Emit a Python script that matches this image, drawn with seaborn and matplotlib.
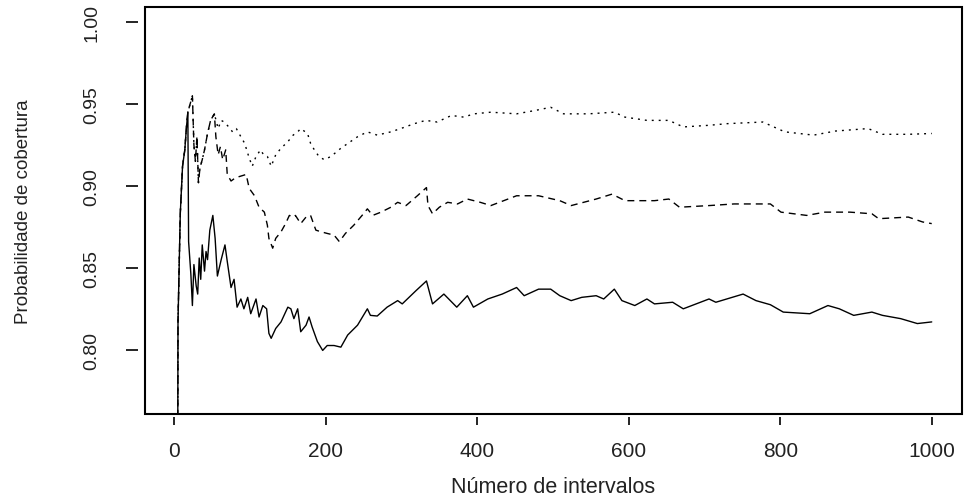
import matplotlib
matplotlib.use("Agg")
import matplotlib.pyplot as plt
from matplotlib.patches import Rectangle
import seaborn as sns

# ---- data ----
n_solid = [4, 5, 8, 11, 14, 16, 18, 19, 22, 24, 26, 29, 31, 33, 35, 37, 40, 42, 44, 47,
           51, 54, 57, 62, 67, 70, 75, 79, 83, 88, 92, 97, 101, 108, 112, 117, 122, 125,
           128, 134, 141, 150, 154, 158, 163, 167, 174, 178, 182, 189, 196, 202, 211, 220,
           229, 242, 255, 259, 268, 281, 295, 301, 319, 333, 341, 356, 373, 387, 395, 414,
           433, 452, 462, 481, 497, 509, 524, 538, 557, 567, 581, 591, 608, 624, 634, 658,
           672, 706, 715, 751, 768, 787, 804, 839, 863, 878, 897, 921, 935, 959, 981, 1000]
p_solid = [0.600, 0.817, 0.883, 0.912, 0.922, 0.935, 0.945, 0.866, 0.846, 0.827, 0.852,
           0.839, 0.834, 0.856, 0.843, 0.864, 0.848, 0.860, 0.855, 0.873, 0.882, 0.868,
           0.845, 0.855, 0.864, 0.854, 0.838, 0.843, 0.826, 0.831, 0.825, 0.832, 0.822,
           0.831, 0.820, 0.827, 0.825, 0.810, 0.807, 0.813, 0.817, 0.826, 0.825, 0.819,
           0.825, 0.811, 0.815, 0.820, 0.814, 0.805, 0.7996, 0.8026, 0.8026, 0.8016,
           0.809, 0.815, 0.825, 0.821, 0.8206, 0.826, 0.830, 0.828, 0.836, 0.842, 0.828,
           0.834, 0.826, 0.833, 0.826, 0.831, 0.834, 0.838, 0.833, 0.837, 0.837, 0.833,
           0.830, 0.832, 0.833, 0.831, 0.837, 0.830, 0.827, 0.831, 0.828, 0.829, 0.825,
           0.831, 0.829, 0.834, 0.830, 0.8275, 0.823, 0.822, 0.827, 0.825, 0.821, 0.823,
           0.821, 0.819, 0.816, 0.817]

n_dashed = [4, 5, 8, 11, 14, 16, 18, 24, 26, 28, 30, 32, 34, 37, 40, 44, 48, 53, 55, 58,
            61, 64, 68, 70, 75, 81, 88, 95, 99, 106, 112, 119, 123, 125, 130, 134, 141,
            147, 152, 158, 160, 167, 174, 180, 187, 194, 202, 211, 218, 226, 237, 248, 255,
            262, 273, 286, 295, 306, 321, 333, 335, 341, 350, 361, 374, 387, 404, 418, 452,
            481, 509, 524, 557, 578, 595, 634, 653, 667, 706, 739, 787, 801, 835, 859, 892,
            921, 930, 969, 988, 1000]
p_dashed = [0.600, 0.817, 0.883, 0.912, 0.922, 0.935, 0.945, 0.955, 0.925, 0.915, 0.930,
            0.902, 0.911, 0.916, 0.922, 0.932, 0.940, 0.944, 0.930, 0.919, 0.924, 0.916,
            0.922, 0.907, 0.903, 0.905, 0.906, 0.907, 0.8985, 0.894, 0.887, 0.884, 0.876,
            0.868, 0.862, 0.868, 0.872, 0.877, 0.882, 0.881, 0.882, 0.877, 0.881, 0.882,
            0.873, 0.872, 0.871, 0.870, 0.866, 0.871, 0.876, 0.882, 0.886, 0.882, 0.884,
            0.887, 0.890, 0.888, 0.894, 0.899, 0.888, 0.883, 0.887, 0.890, 0.889, 0.892,
            0.890, 0.888, 0.894, 0.894, 0.891, 0.888, 0.892, 0.895, 0.891, 0.891, 0.892,
            0.887, 0.888, 0.889, 0.889, 0.884, 0.882, 0.884, 0.884, 0.883, 0.880, 0.881,
            0.878, 0.877]

n_dotted = [4, 5, 8, 11, 14, 16, 18, 24, 26, 28, 30, 32, 34, 37, 40, 44, 48, 53, 58, 62,
            66, 72, 77, 82, 88, 93, 99, 103, 108, 114, 118, 123, 128, 134, 141, 150, 157,
            163, 167, 176, 180, 185, 191, 198, 207, 220, 242, 255, 268, 286, 299, 317, 332,
            347, 366, 382, 396, 418, 452, 476, 497, 514, 547, 581, 595, 624, 653, 672, 706,
            730, 777, 806, 844, 873, 916, 935, 969, 1000]
p_dotted = [0.600, 0.817, 0.883, 0.912, 0.922, 0.935, 0.945, 0.955, 0.925, 0.915, 0.930,
            0.902, 0.911, 0.916, 0.922, 0.932, 0.940, 0.944, 0.935, 0.940, 0.939, 0.936,
            0.933, 0.935, 0.930, 0.926, 0.917, 0.912, 0.918, 0.922, 0.919, 0.918, 0.912,
            0.919, 0.923, 0.927, 0.931, 0.933, 0.935, 0.932, 0.926, 0.922, 0.918, 0.916,
            0.918, 0.923, 0.930, 0.933, 0.931, 0.933, 0.935, 0.938, 0.940, 0.939, 0.943,
            0.942, 0.944, 0.945, 0.944, 0.946, 0.948, 0.944, 0.944, 0.945, 0.942, 0.940,
            0.940, 0.936, 0.937, 0.938, 0.939, 0.933, 0.931, 0.9335, 0.935, 0.9315, 0.9315,
            0.932]

x_ticks = [0, 200, 400, 600, 800, 1000]
y_ticks = [0.80, 0.85, 0.90, 0.95, 1.00]
y_tick_labels = ["0.80", "0.85", "0.90", "0.95", "1.00"]
x_label = "Número de intervalos"
y_label = "Probabilidade de cobertura"

# ---- styling ----
sns.set_style("white")
plt.rcParams["font.family"] = ["Liberation Sans", "DejaVu Sans"]
text_color = "#222222"

W, H = 966, 502
fig = plt.figure(figsize=(W / 100, H / 100), dpi=100)
left, right, top, bottom = 144.7, 962.0, 8.0, 415.0
ax = fig.add_axes([left / W, 1 - bottom / H, (right - left) / W, (bottom - top) / H])

series = [
    (n_solid, p_solid, "-"),
    (n_dashed, p_dashed, (0, (5.0, 3.6))),
    (n_dotted, p_dotted, (0, (1.4, 3.6))),
]
for n, p, ls in series:
    sns.lineplot(x=n, y=p, ax=ax, color="black", linewidth=1.0, linestyle=ls,
                 estimator=None, sort=False)

ax.set_xlim(-38.96, 1039.96)
ax.set_ylim(0.7608, 1.0092)
ax.set_xticks(x_ticks)
ax.set_xticklabels([str(v) for v in x_ticks])
ax.set_yticks(y_ticks)
ax.set_yticklabels(y_tick_labels)

for s in ax.spines.values():
    s.set_visible(False)
ax.spines["left"].set_position(("outward", 5))
ax.spines["bottom"].set_position(("outward", 2))
ax.add_patch(Rectangle((0, 0), 1, 1, transform=ax.transAxes, fill=False,
                       lw=1.5, ec="black", clip_on=False, zorder=5))

ax.tick_params(axis="x", direction="out", length=6.1, width=1.2, pad=11.0,
               labelsize=15, colors="black", labelcolor=text_color, bottom=True)
ax.tick_params(axis="y", direction="out", length=8.4, width=1.2, pad=18.5,
               labelsize=14, colors="black", labelcolor=text_color,
               labelrotation=90, left=True)
for lab in ax.get_yticklabels():
    lab.set_va("center")
    lab.set_ha("right")

ax.set_xlabel(x_label, fontsize=15.5, color=text_color)
ax.set_ylabel(y_label, fontsize=13.5, color=text_color)
ax.xaxis.label.set_va("center")
ax.xaxis.set_label_coords(0.5, (bottom - 488) / (bottom - top))
ax.yaxis.label.set_va("center")
ax.yaxis.set_label_coords((23 - left) / (right - left), 0.5)

legend = ax.get_legend()
if legend is not None:
    legend.remove()

fig.savefig("out.png", dpi=100, facecolor="white")
